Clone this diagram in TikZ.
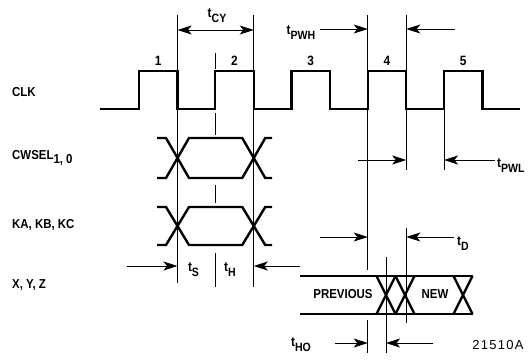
\documentclass[tikz,border=0pt]{standalone}
\usepackage{fontspec}
\setmainfont{Liberation Sans}[FakeStretch=0.88]
\newfontfamily\figfont{Liberation Sans}[LetterSpace=10]
\usetikzlibrary{arrows.meta}

\newcommand{\tm}[1]{t\raisebox{-5pt}{\fontsize{12}{12}\selectfont #1}}

\tikzset{
	sig/.style={line width=2.4pt},
	guide/.style={line width=0.9pt},
	dim/.style={guide,-{Stealth[length=14pt,width=9pt,inset=3.5pt]}},
	sname/.style={anchor=west,inner sep=0pt,font=\bfseries\fontsize{13}{13}\selectfont},
	tlbl/.style={inner sep=0pt,font=\bfseries\fontsize{13.5}{13.5}\selectfont},
}

\begin{document}
\begin{tikzpicture}[x=1pt,y=-1pt]
			\useasboundingbox (0,0) rectangle (529,362);
			
			\foreach \k/\r in {1/139,2/215.25,3/291.5,4/367.75,5/444} {
				\coordinate (r\k) at (\r,0);
				\coordinate (f\k) at (\r+38.5,0);
			}
			\coordinate (ho) at (386,0);
			
			\node[sname] (clk) at (12,92) {CLK};
			\node[sname] (cwsel) at (12,158) {CWSEL\raisebox{-4.5pt}{1, 0}};
			\node[sname] (kabc) at (12,225) {KA, KB, KC};
			\node[sname] (xyz) at (12,285) {X, Y, Z};
			
			\node[tlbl] (n1) at (158.25,61) {1};
			\node[tlbl] (n2) at (234.5,61) {2};
			\node[tlbl] (n3) at (310.75,61) {3};
			\node[tlbl] (n4) at (387,61) {4};
			\node[tlbl] (n5) at (463.25,61) {5};
			
			\draw[sig] (100,109) \foreach \k in {1,...,5} { -- (r\k |- 0,109) -- (r\k |- 0,71) -- (f\k |- 0,71) -- (f\k |- 0,109) } -- (520,109);
			
			\foreach \u/\l in {138/178,207/245} {
				\draw[sig] (157,\u) -- (166,\u) -- (189,\l) -- (242.25,\l) -- (265.25,\u) -- (272,\u);
				\draw[sig] (157,\l) -- (166,\l) -- (189,\u) -- (242.25,\u) -- (265.25,\l) -- (272,\l);
			}
			
			\draw[sig] (300,276) -- (473,276) (300,314) -- (473,314);
			\foreach \c in {386,405,463} {
				\draw[sig] (\c-9.5,276) -- (\c+9.5,314) (\c-9.5,314) -- (\c+9.5,276);
			}
			\node[tlbl,font=\bfseries\fontsize{13}{13}\selectfont] (prev) at (343,294) {PREVIOUS};
			\node[tlbl,font=\bfseries\fontsize{13}{13}\selectfont] (new) at (435,294) {NEW};
			
			\draw[guide] (f1 |- 0,15) -- (f1 |- 0,283);
			\draw[guide] (r2 |- 0,53) -- (r2 |- 0,69) (r2 |- 0,113) -- (r2 |- 0,135) (r2 |- 0,185) -- (r2 |- 0,203) (r2 |- 0,253) -- (r2 |- 0,287);
			\draw[guide] (f2 |- 0,15) -- (f2 |- 0,287);
			\draw[guide] (r4 |- 0,15) -- (r4 |- 0,270) (r4 |- 0,320) -- (r4 |- 0,353);
			\draw[guide] (f4 |- 0,15) -- (f4 |- 0,170) (f4 |- 0,228) -- (f4 |- 0,323);
			\draw[guide] (r5 |- 0,109) -- (r5 |- 0,170);
			\draw[guide] (ho |- 0,257) -- (ho |- 0,353);
			
			\coordinate (cy) at (0,30);
			\coordinate (pwhA) at (320,29);
			\coordinate (pwhB) at (455,29);
			\coordinate (pwlA) at (358,160);
			\coordinate (pwlB) at (495,160);
			\coordinate (sA) at (127,266);
			\coordinate (hB) at (300,266);
			\coordinate (dA) at (320,237);
			\coordinate (dB) at (454,237);
			\coordinate (hoA) at (335,343);
			\coordinate (hoB) at (433,343);
			
			\draw[guide,{Stealth[length=14pt,width=9pt,inset=3.5pt]}-{Stealth[length=14pt,width=9pt,inset=3.5pt]}] (f1 |- cy) -- (f2 |- cy);
			\draw[dim] (pwhA) -- (r4 |- pwhA);
			\draw[dim] (pwhB) -- (f4 |- pwhB);
			\draw[dim] (pwlA) -- (f4 |- pwlA);
			\draw[dim] (pwlB) -- (r5 |- pwlB);
			\draw[dim] (sA) -- (f1 |- sA);
			\draw[dim] (hB) -- (f2 |- hB);
			\draw[dim] (dA) -- (r4 |- dA);
			\draw[dim] (dB) -- (f4 |- dB);
			\draw[dim] (hoA) -- (r4 |- hoA);
			\draw[dim] (hoB) -- (ho |- hoB);
			
			\node[tlbl] (tcy) at (217,16) {\tm{CY}};
			\node[tlbl] (tpwh) at (301,33) {\tm{PWH}};
			\node[tlbl,anchor=west] (tpwl) at (497,166) {\tm{PWL}};
			\node[tlbl] (ts) at (193.5,270) {\tm{S}};
			\node[tlbl] (th) at (230,270) {\tm{H}};
			\node[tlbl,anchor=west] (td) at (457,244) {\tm{D}};
			\node[tlbl] (tho) at (301,345) {\tm{HO}};
			\node[inner sep=0pt,font=\figfont\fontsize{13}{13}\selectfont] (fig) at (498,345) {21510A};
		\end{tikzpicture}
\end{document}
